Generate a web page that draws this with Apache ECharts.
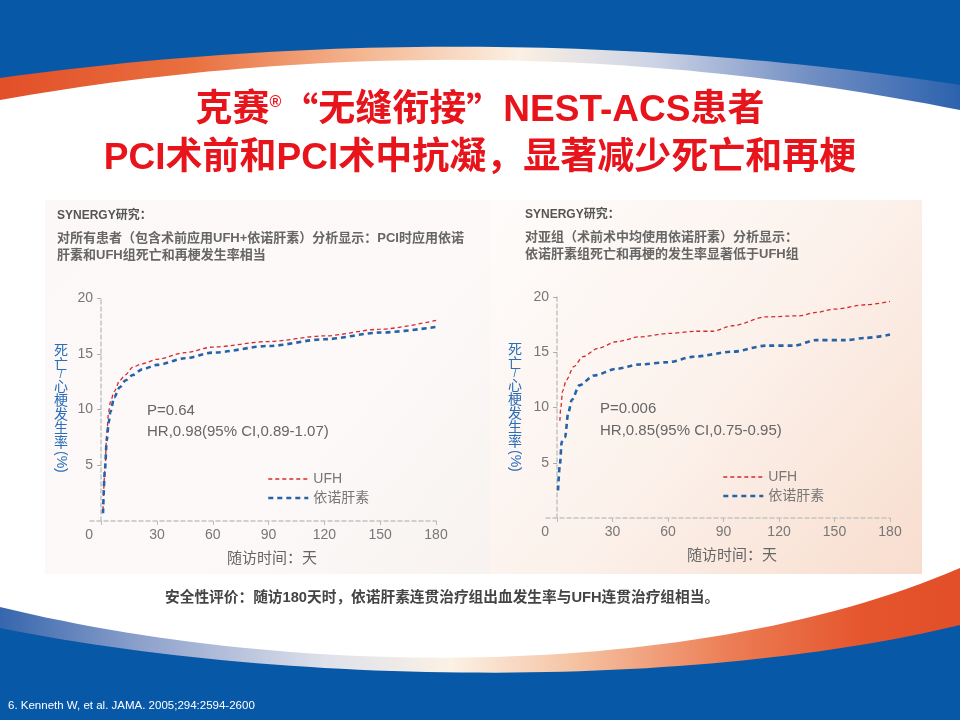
<!DOCTYPE html>
<html>
<head>
    <meta charset="UTF-8">
    <title>SYNERGY 死亡/心梗发生率</title>
    <script src="https://cdn.jsdelivr.net/npm/echarts@6/dist/echarts.min.js"></script>
    <style>
        html, body { margin: 0; padding: 0; background: #fff; }
        #chart { width: 960px; height: 720px; }
    </style>
</head>
<body>
<div id="chart"></div>
<script>
// 左图：所有患者
const leftUfhDays  = [1, 2, 3, 4, 5, 7, 10, 13, 17, 22, 30, 45, 60, 90, 120, 150, 180];
const leftUfhRate  = [1.0, 4.5, 7.8, 9.8, 10.7, 11.6, 12.6, 13.1, 13.8, 14.1, 14.5, 15.1, 15.6, 16.1, 16.6, 17.2, 18.0];
const leftEnoxDays = [1, 2, 3, 4, 5, 7, 10, 13, 17, 22, 30, 45, 60, 90, 120, 150, 180];
const leftEnoxRate = [0.7, 4.5, 7.2, 8.8, 9.8, 11.1, 12.0, 12.6, 13.1, 13.6, 14.0, 14.6, 15.1, 15.7, 16.3, 16.9, 17.4];

// 右图：术前术中均使用依诺肝素亚组
const rightUfhDays  = [1.5, 2, 3, 5, 9, 14, 22, 32, 45, 60, 75, 84, 95, 113, 131, 140, 150, 167, 180];
const rightUfhRate  = [8.8, 10.0, 11.5, 12.5, 13.7, 14.6, 15.35, 15.95, 16.4, 16.7, 16.9, 16.9, 17.4, 18.2, 18.3, 18.6, 18.9, 19.3, 19.6];
const rightEnoxDays = [0.5, 1.5, 2.5, 4.3, 6, 8, 12, 20, 32, 45, 60, 74, 95, 113, 128, 140, 156, 167, 180];
const rightEnoxRate = [2.5, 4.8, 6.9, 7.3, 9.5, 10.7, 12.0, 12.9, 13.5, 13.9, 14.1, 14.6, 15.05, 15.6, 15.6, 16.1, 16.1, 16.3, 16.6];

const xTicks = [0, 30, 60, 90, 120, 150, 180];
const seriesNames = ['UFH', '依诺肝素'];

const FONT = "'Liberation Sans', 'Noto Sans CJK SC', sans-serif";
const CJK = "'Noto Sans CJK SC', 'Liberation Sans', sans-serif";
const RED = '#d42a2e';
const BLUE = '#2563a8';
const GREY = '#777';

const toPairs = (xs, ys) => xs.map((x, i) => [x, ys[i]]);

function makeX(gridIndex, namePad) {
    return {
        gridIndex: gridIndex,
        type: 'value',
        min: -6,
        max: 180,
        name: '随访时间：天',
        nameLocation: 'middle',
        nameGap: 29,
        nameTextStyle: { color: '#666', fontSize: 15, fontFamily: CJK, padding: [0, 0, 0, namePad] },
        axisLine: { lineStyle: { color: '#c4c4c4', width: 1.5, type: [4, 3] } },
        axisTick: { show: true, length: 4, customValues: xTicks, lineStyle: { color: '#bbb' } },
        axisLabel: {
            customValues: xTicks,
            color: GREY, fontSize: 14, margin: 7, fontFamily: FONT,
            formatter: v => v === 0 ? '{z|0}' : String(v),
            rich: { z: { color: GREY, fontSize: 14, fontFamily: FONT, padding: [0, 24, 0, 0] } }
        },
        splitLine: { show: false }
    };
}

function makeY(gridIndex) {
    return {
        gridIndex: gridIndex,
        type: 'value',
        min: 0,
        max: 20,
        interval: 5,
        axisLine: { show: true, onZero: true, lineStyle: { color: '#c4c4c4', width: 1.5, type: [4, 3] } },
        axisTick: { show: true, length: 4, lineStyle: { color: '#aaa' } },
        axisLabel: { color: GREY, fontSize: 14, margin: -3, showMinLabel: false, fontFamily: FONT },
        splitLine: { show: false }
    };
}

function makeLine(name, idx, pairs) {
    const isUfh = name === 'UFH';
    return {
        name: name,
        type: 'line',
        xAxisIndex: idx,
        yAxisIndex: idx,
        data: pairs,
        smooth: 0.3,
        smoothMonotone: 'x',
        symbol: 'none',
        showSymbol: false,
        lineStyle: isUfh
            ? { color: RED, width: 1.3, type: [4, 3] }
            : { color: BLUE, width: 2.6, type: [5, 4] },
        itemStyle: { color: isUfh ? RED : BLUE },
        z: 5
    };
}

function makeLegend(left, top) {
    return {
        orient: 'vertical',
        left: left,
        top: top,
        padding: 0,
        itemWidth: 40,
        itemHeight: 14,
        itemGap: 5,
        selectedMode: false,
        itemStyle: { opacity: 0 },
        textStyle: { color: GREY, fontSize: 14, fontFamily: FONT },
        data: [
            { name: 'UFH', lineStyle: { color: RED, width: 1.3, type: [4, 3] } },
            { name: '依诺肝素', lineStyle: { color: BLUE, width: 2.6, type: [5, 4] } }
        ]
    };
}

// 竖排纵轴名
function yName(cx, top) {
    return [
        {
            type: 'text', x: cx, y: top, z: 3,
            style: {
                text: '{c|死}\n{c|亡}\n{s|/}\n{c|心}\n{c|梗}\n{c|发}\n{c|生}\n{c|率}',
                align: 'center',
                rich: {
                    c: { fontSize: 14, lineHeight: 14, fill: '#2a6db8', fontFamily: CJK, align: 'center' },
                    s: { fontSize: 10, lineHeight: 8, fill: '#2a6db8', fontFamily: FONT, align: 'center' }
                }
            }
        },
        {
            type: 'text', x: cx + 7, y: top + 108, rotation: -Math.PI / 2, z: 3,
            style: { text: '(%)', fill: '#2a6db8', font: '14px ' + FONT }
        }
    ];
}

function txt(x, y, text, size, color, weight, family) {
    return {
        type: 'text', x: x, y: y, z: 3,
        style: {
            text: text, fill: color, verticalAlign: 'middle',
            font: (weight || 'normal') + ' ' + size + 'px ' + (family || FONT)
        }
    };
}

// 背景弧线取样
function quad(p0, c, p1, n) {
    const pts = [];
    for (let i = 0; i <= n; i++) {
        const t = i / n, a = (1 - t) * (1 - t), b = 2 * t * (1 - t), d = t * t;
        pts.push([a * p0[0] + b * c[0] + d * p1[0], a * p0[1] + b * c[1] + d * p1[1]]);
    }
    return pts;
}
function cubic(p0, c0, c1, p1, n) {
    const pts = [];
    for (let i = 0; i <= n; i++) {
        const t = i / n, u = 1 - t;
        const a = u * u * u, b = 3 * u * u * t, c = 3 * u * t * t, d = t * t * t;
        pts.push([a * p0[0] + b * c0[0] + c * c1[0] + d * p1[0], a * p0[1] + b * c0[1] + c * c1[1] + d * p1[1]]);
    }
    return pts;
}

const G = echarts.graphic;
const topBand = new G.LinearGradient(0, 0, 1, 0, [
    { offset: 0, color: '#e24f29' }, { offset: 0.2, color: '#e9703f' },
    { offset: 0.38, color: '#f4b792' }, { offset: 0.54, color: '#fbf0e3' },
    { offset: 0.68, color: '#cdd4e6' }, { offset: 0.84, color: '#7490c4' },
    { offset: 1, color: '#2c62ad' }
]);
const bottomBand = new G.LinearGradient(0, 0, 1, 0, [
    { offset: 0, color: '#3666ad' }, { offset: 0.15, color: '#8fa2cc' },
    { offset: 0.34, color: '#dfe1eb' }, { offset: 0.47, color: '#fbf1e5' },
    { offset: 0.6, color: '#f5c2a2' }, { offset: 0.76, color: '#ec7d55' },
    { offset: 0.9, color: '#e5552d' }, { offset: 1, color: '#e24f29' }
]);
const leftPanel = new G.LinearGradient(0, 0, 1, 1, [
    { offset: 0, color: '#fbf8f7' }, { offset: 0.6, color: '#fcf9f8' }, { offset: 1, color: '#f8f3f1' }
]);
const rightPanel = new G.LinearGradient(0, 0, 1, 1, [
    { offset: 0, color: '#fefcfb' }, { offset: 0.5, color: '#fcf2ec' }, { offset: 1, color: '#f8ddce' }
]);

const topArc = quad([0, 78], [480, 12], [960, 85], 60);
const whiteTop = quad([0, 100], [480, 15], [960, 110], 60);
const whiteBottom = cubic([960, 568], [700, 680], [300, 680], [0, 607], 60);
const lowArc = cubic([0, 628], [300, 688], [700, 688], [960, 625], 60);

const decor = [
    { type: 'rect', shape: { x: 0, y: 0, width: 960, height: 720 }, style: { fill: '#0759a8' }, z: -20 },
    { type: 'polygon', shape: { points: topArc.concat([[960, 400], [0, 400]]) }, style: { fill: topBand }, z: -19 },
    { type: 'polygon', shape: { points: [[0, 400]].concat(lowArc, [[960, 400]]) }, style: { fill: bottomBand }, z: -19 },
    { type: 'polygon', shape: { points: whiteTop.concat(whiteBottom) }, style: { fill: '#ffffff' }, z: -18 },
    { type: 'rect', shape: { x: 45, y: 200, width: 445, height: 374 }, style: { fill: leftPanel }, z: -17 },
    { type: 'rect', shape: { x: 490, y: 200, width: 432, height: 374 }, style: { fill: rightPanel }, z: -17 }
];

const titleRich = {
    a: { fontSize: 37, fontWeight: 'bold', fill: '#e8141c', fontFamily: FONT, lineHeight: 48 },
    q: { fontSize: 37, fontWeight: 'bold', fill: '#e8141c', fontFamily: CJK, lineHeight: 48 },
    r: { fontSize: 16, fontWeight: 'bold', fill: '#e8141c', fontFamily: FONT, lineHeight: 48, padding: [0, 0, 16, 0] }
};

const texts = [
    {
        type: 'text', x: 480, y: 87, z: 3,
        style: {
            text: '{a|克赛}{r|®}{q|“}{a|无缝衔接}{q|”}{a|NEST-ACS患者}\n{a|PCI术前和PCI术中抗凝，显著减少死亡和再梗}',
            align: 'center',
            rich: titleRich
        }
    },
    txt(57, 216, 'SYNERGY研究：', 12, '#555', 'bold', FONT),
    txt(57, 238, '对所有患者（包含术前应用UFH+依诺肝素）分析显示：PCI时应用依诺', 13, '#666', 'bold', FONT),
    txt(57, 255, '肝素和UFH组死亡和再梗发生率相当', 13, '#666', 'bold', FONT),
    txt(525, 215, 'SYNERGY研究：', 12, '#555', 'bold', FONT),
    txt(525, 237, '对亚组（术前术中均使用依诺肝素）分析显示：', 13, '#666', 'bold', FONT),
    txt(525, 254, '依诺肝素组死亡和再梗的发生率显著低于UFH组', 13, '#666', 'bold', FONT),
    txt(147, 411, 'P=0.64', 15, '#666'),
    txt(147, 432, 'HR,0.98(95% CI,0.89-1.07)', 15, '#666'),
    txt(600, 409, 'P=0.006', 15, '#666'),
    txt(600, 431, 'HR,0.85(95% CI,0.75-0.95)', 15, '#666'),
    txt(165, 598, '安全性评价：随访180天时，依诺肝素连贯治疗组出血发生率与UFH连贯治疗组相当。', 14.7, '#444', 'bold', FONT),
    txt(8, 706, '6. Kenneth W, et al. JAMA. 2005;294:2594-2600', 11.5, '#ffffff')
].concat(yName(61, 343), yName(515, 342));

const chart = echarts.init(document.getElementById('chart'), null, { renderer: 'canvas' });
chart.setOption({
    animation: false,
    textStyle: { fontFamily: FONT },
    grid: [
        { left: 90, top: 298, width: 346, height: 223 },
        { left: 546, top: 297, width: 344, height: 221 }
    ],
    xAxis: [makeX(0, 18), makeX(1, 28)],
    yAxis: [makeY(0), makeY(1)],
    legend: [makeLegend(267, 472), makeLegend(722, 470)],
    graphic: { elements: decor.concat(texts) },
    series: [
        makeLine(seriesNames[0], 0, toPairs(leftUfhDays, leftUfhRate)),
        makeLine(seriesNames[1], 0, toPairs(leftEnoxDays, leftEnoxRate)),
        makeLine(seriesNames[0], 1, toPairs(rightUfhDays, rightUfhRate)),
        makeLine(seriesNames[1], 1, toPairs(rightEnoxDays, rightEnoxRate))
    ]
});
</script>
</body>
</html>
